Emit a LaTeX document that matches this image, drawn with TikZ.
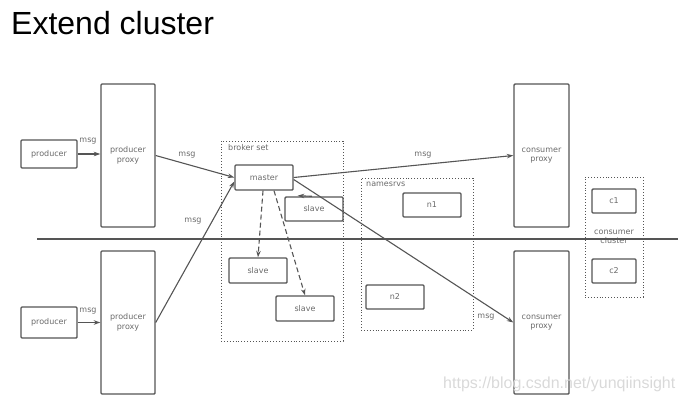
\documentclass[tikz,border=0pt]{standalone}
\usepackage{fontspec}
\setmainfont{DejaVu Sans}
\newfontfamily\titlefont{Liberation Sans}
\usetikzlibrary{arrows.meta}
\definecolor{linegray}{HTML}{555555}
\definecolor{textgray}{HTML}{6A6A6A}

\begin{document}
\begin{tikzpicture}[x=1pt, y=-1pt,
  box/.style={draw=linegray, line width=1.4pt, rounded corners=1pt, text=textgray,
    font=\fontsize{8}{9.5}\selectfont, align=center, inner sep=0pt},
  group/.style={draw=linegray, dotted, line width=0.9pt},
  lbl/.style={text=textgray, font=\fontsize{8}{9.5}\selectfont, inner sep=0pt, align=center},
  flow/.style={-{Stealth[length=6.5pt, width=4.5pt]}, draw=linegray, line width=1.1pt},
  sync/.style={flow, dash pattern=on 5pt off 3pt}]
\useasboundingbox (0,0) rectangle (684,402);

\node[anchor=base west, inner sep=0pt, font=\titlefont\fontsize{32}{38}\selectfont] (title) at (11,34) {Extend cluster};

% groups
\node[group, minimum width=122pt, minimum height=200pt] (brokerset) at (282,241) {};
\node[group, minimum width=112pt, minimum height=152pt] (namesrvs) at (417,254) {};
\node[group, minimum width=58pt, minimum height=120pt] (ccluster) at (614,237) {};
\node[lbl, anchor=west] (brokerlbl) at (228,148) {broker set};
\node[lbl, anchor=west] (nslbl) at (366,184) {namesrvs};
\node[lbl] (cclbl) at (614,237) {consumer\\cluster};

% producers
\node[box, minimum width=56pt, minimum height=28pt] (prod1) at (49,154) {producer};
\node[box, minimum width=56pt, minimum height=31pt] (prod2) at (49,322.5) {producer};
\node[box, minimum width=54pt, minimum height=143pt] (pproxy1) at (128,155.5) {producer\\proxy};
\node[box, minimum width=54pt, minimum height=143pt] (pproxy2) at (128,322.5) {producer\\proxy};

% brokers
\node[box, minimum width=58pt, minimum height=25pt] (master) at (264,177.5) {master};
\node[box, minimum width=58pt, minimum height=24pt] (slave1) at (314,209) {slave};
\node[box, minimum width=58pt, minimum height=25pt] (slave2) at (258,270.5) {slave};
\node[box, minimum width=58pt, minimum height=25pt] (slave3) at (305,308.5) {slave};

% name servers
\node[box, minimum width=58pt, minimum height=24pt] (n1) at (432,205) {n1};
\node[box, minimum width=58pt, minimum height=24pt] (n2) at (395,297) {n2};

% consumers
\node[box, minimum width=55pt, minimum height=143pt] (cproxy1) at (541.5,155.5) {consumer\\proxy};
\node[box, minimum width=55pt, minimum height=143pt] (cproxy2) at (541.5,322.5) {consumer\\proxy};
\node[box, minimum width=44pt, minimum height=24pt] (c1) at (614,201) {c1};
\node[box, minimum width=44pt, minimum height=24pt] (c2) at (614,271) {c2};

% divider
\coordinate (divL) at (37,239);
\coordinate (divR) at (678,239);
\draw[draw=linegray, line width=1.3pt] (divL) -- (divR);

% connectors
\draw[flow] (prod1) -- (pproxy1.west |- prod1);
\draw[flow] (prod2) -- (pproxy2.west |- prod2);
\draw[flow] (pproxy1.east) -- (master.west);
\draw[flow] (pproxy2.east) -- ([yshift=-4pt]master.west);
\draw[flow] (master.east) -- (cproxy1.west);
\draw[flow] ([yshift=-2pt]master.east) -- (cproxy2.west);
\draw[flow] ([xshift=-2pt]slave1.north) -- ([xshift=4pt,yshift=-5pt]master.south east);
\draw[sync] ([xshift=-1pt]master.south) -- (slave2.north);
\draw[sync] ([xshift=10pt]master.south) -- (slave3.north);

\node[lbl] (m1) at (88,141) {msg};
\node[lbl] (m2) at (88,311) {msg};
\node[lbl] (m3) at (187,155) {msg};
\node[lbl] (m4) at (193,221) {msg};
\node[lbl] (m5) at (423,155) {msg};
\node[lbl] (m6) at (486,317) {msg};

\node[anchor=base west, inner sep=0pt, font=\titlefont\fontsize{16}{19}\selectfont, text=gray!30] (mark) at (443,388) {https://blog.csdn.net/yunqiinsight};
\end{tikzpicture}
\end{document}
